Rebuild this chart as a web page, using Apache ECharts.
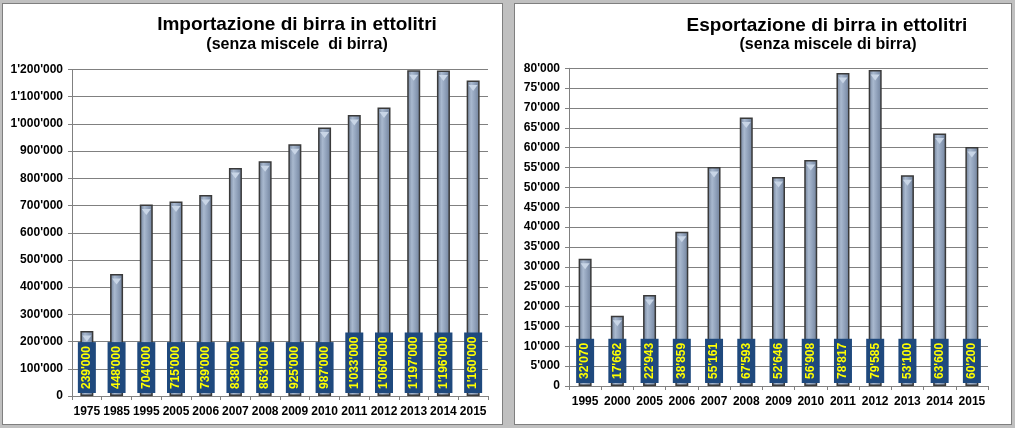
<!DOCTYPE html>
<html>
<head>
<meta charset="utf-8">
<script src="https://cdn.jsdelivr.net/npm/echarts@6/dist/echarts.min.js"></script>
<style>
  html, body { margin: 0; padding: 0; background: #c0c0c0; }
  body { width: 1015px; height: 428px; position: relative; overflow: hidden; }
  .panel { position: absolute; background: #ffffff; border: 1px solid #7f7f7f; box-sizing: border-box; }
  #chart { position: absolute; left: 0; top: 0; width: 1015px; height: 428px; }
</style>
</head>
<body>
<div class="panel" style="left:2px;top:3px;width:501px;height:422px;"></div>
<div class="panel" style="left:514px;top:3px;width:498px;height:422px;"></div>
<div id="chart"></div>
<script>
// ---- data ----
const importTitle = 'Importazione di birra in ettolitri';
const importSubtitle = '(senza miscele  di birra)';
const importYears = ['1975','1985','1995','2005','2006','2007','2008','2009','2010','2011','2012','2013','2014','2015'];
const importValues = [239000, 448000, 704000, 715000, 739000, 838000, 863000, 925000, 987000, 1033000, 1060000, 1197000, 1196000, 1160000];
const importAxisMax = 1200000;
const importAxisStep = 100000;

const exportTitle = 'Esportazione di birra in ettolitri';
const exportSubtitle = '(senza miscele di birra)';
const exportYears = ['1995','2000','2005','2006','2007','2008','2009','2010','2011','2012','2013','2014','2015'];
const exportValues = [32070, 17662, 22943, 38859, 55161, 67593, 52646, 56908, 78817, 79585, 53100, 63600, 60200];
const exportAxisMax = 80000;
const exportAxisStep = 5000;

// ---- helpers ----
const FONT = "'Liberation Sans', Arial, sans-serif";
function fmt(v) { return String(v).replace(/\B(?=(\d{3})+(?!\d))/g, "'"); }

const barColor = {
  type: 'linear', x: 0, y: 0, x2: 1, y2: 0,
  colorStops: [
    { offset: 0, color: '#6c7c95' },
    { offset: 0.35, color: '#a9b9cf' },
    { offset: 0.6, color: '#93a4bd' },
    { offset: 1, color: '#6f809a' }
  ]
};

function xAxis(idx, data) {
  return {
    type: 'category', gridIndex: idx, data: data,
    axisLine: { show: true, lineStyle: { color: '#808080', width: 1 } },
    axisTick: { show: true, length: 4, alignWithLabel: false, lineStyle: { color: '#808080' } },
    axisLabel: { color: '#000', fontFamily: FONT, fontWeight: 'bold', fontSize: 12, margin: 10, interval: 0 },
    splitLine: { show: false }
  };
}
function yAxis(idx, max, step) {
  return {
    type: 'value', gridIndex: idx, min: 0, max: max, interval: step,
    axisLine: { show: true, lineStyle: { color: '#808080', width: 1 } },
    axisTick: { show: true, length: 4, lineStyle: { color: '#808080' } },
    axisLabel: { color: '#000', fontFamily: FONT, fontWeight: 'bold', fontSize: 12, margin: 9, formatter: fmt },
    splitLine: { show: true, lineStyle: { color: '#808080', width: 1 } }
  };
}
function barSeries(idx, values) {
  return {
    type: 'bar', xAxisIndex: idx, yAxisIndex: idx, data: values,
    barWidth: 13,
    itemStyle: { color: barColor, borderColor: '#3a3a3a', borderWidth: 1.5 },
    label: {
      show: true, position: 'insideBottom', distance: 3, rotate: 90,
      align: 'left', verticalAlign: 'middle',
      color: '#ffff00', fontFamily: FONT, fontWeight: 'bold', fontSize: 12,
      backgroundColor: '#1f497d', padding: [3, 4, 3, 4],
      formatter: p => fmt(p.value)
    },
    z: 2
  };
}
function capSeries(idx, values) {
  return {
    type: 'pictorialBar', xAxisIndex: idx, yAxisIndex: idx, data: values,
    symbol: 'path://M0,0 L10,0 L5,6 Z', symbolSize: [9, 6],
    symbolPosition: 'end', symbolOffset: [0, '75%'],
    itemStyle: { color: '#c8d5e6' }, silent: true, z: 3
  };
}

const chart = echarts.init(document.getElementById('chart'), null, { renderer: 'canvas' });
chart.setOption({
  backgroundColor: 'transparent',
  animation: false,
  graphic: [
    { type: 'text', x: 297, y: 25, style: { text: importTitle, font: "bold 19px 'Liberation Sans', Arial, sans-serif", fill: '#000', align: 'center', verticalAlign: 'middle' } },
    { type: 'text', x: 297, y: 45, style: { text: importSubtitle, font: "bold 16px 'Liberation Sans', Arial, sans-serif", fill: '#000', align: 'center', verticalAlign: 'middle' } },
    { type: 'text', x: 827, y: 26, style: { text: exportTitle, font: "bold 19px 'Liberation Sans', Arial, sans-serif", fill: '#000', align: 'center', verticalAlign: 'middle' } },
    { type: 'text', x: 828, y: 45, style: { text: exportSubtitle, font: "bold 16px 'Liberation Sans', Arial, sans-serif", fill: '#000', align: 'center', verticalAlign: 'middle' } }
  ],
  grid: [
    { left: 72, top: 69.5, width: 416, height: 326.5, containLabel: false },
    { left: 569, top: 68.3, width: 419, height: 317.7, containLabel: false }
  ],
  xAxis: [xAxis(0, importYears), xAxis(1, exportYears)],
  yAxis: [yAxis(0, importAxisMax, importAxisStep), yAxis(1, exportAxisMax, exportAxisStep)],
  series: [
    barSeries(0, importValues), capSeries(0, importValues),
    barSeries(1, exportValues), capSeries(1, exportValues)
  ]
});
</script>
</body>
</html>
